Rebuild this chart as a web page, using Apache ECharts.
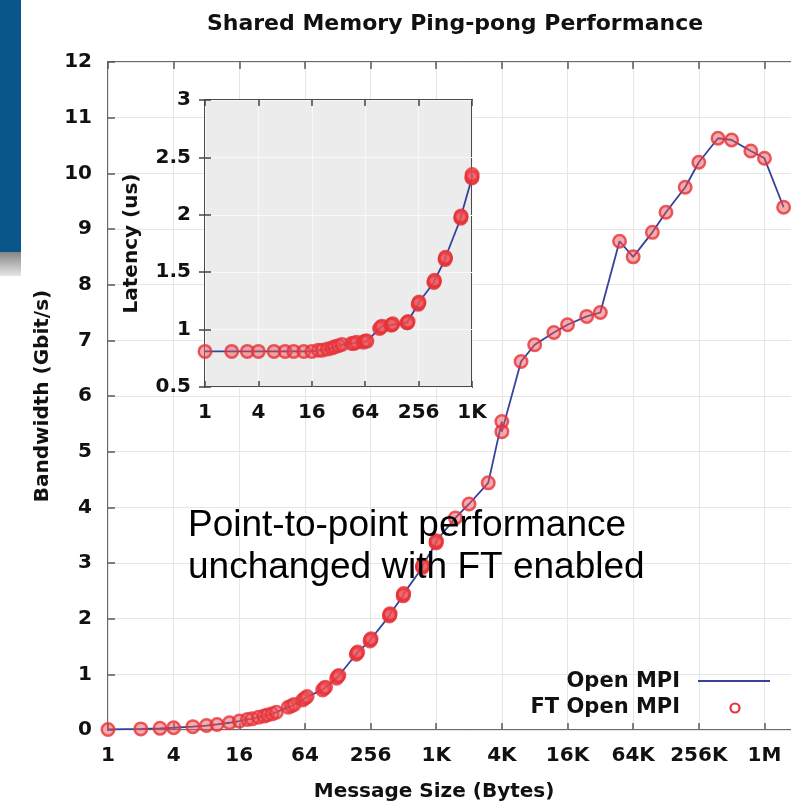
<!DOCTYPE html>
<html><head><meta charset="utf-8">
<script src="https://cdn.jsdelivr.net/npm/echarts@6/dist/echarts.min.js"></script>
<style>html,body{margin:0;padding:0;overflow:hidden;background:#fff}#chart{width:850px;height:808px}</style>
</head><body><div id="chart"></div>
<script>
// ---- data ----
const messageSizes = [1,2,3,4,6,8,10,13,16,19,21,24,27,29,32,35,45,48,51,61,64,67,93,96,99,125,128,131,189,192,195,253,256,259,381,384,387,509,512,515,765,768,771,1021,1024,1027,1536,2048,3072,4093,4096,6144,8192,12288,16384,24576,32768,49152,65536,98304,131072,196608,262144,393216,524288,786432,1048576,1572864];
const openMpiBandwidth = [0.01,0.02,0.03,0.04,0.06,0.08,0.1,0.13,0.16,0.19,0.2,0.23,0.25,0.27,0.29,0.32,0.41,0.43,0.46,0.54,0.57,0.6,0.72,0.75,0.77,0.93,0.96,0.98,1.36,1.38,1.4,1.6,1.62,1.64,2.05,2.07,2.09,2.41,2.43,2.45,2.92,2.94,2.96,3.36,3.38,3.4,3.81,4.06,4.44,5.54,5.36,6.62,6.92,7.14,7.28,7.43,7.5,8.78,8.5,8.94,9.3,9.75,10.2,10.63,10.6,10.4,10.27,9.39];
const ftOpenMpiBandwidth = [0.01,0.02,0.03,0.04,0.06,0.08,0.1,0.13,0.16,0.19,0.2,0.23,0.25,0.27,0.29,0.32,0.41,0.43,0.46,0.54,0.57,0.6,0.72,0.75,0.77,0.93,0.96,0.98,1.36,1.38,1.4,1.6,1.62,1.64,2.05,2.07,2.09,2.41,2.43,2.45,2.92,2.94,2.96,3.36,3.38,3.4,3.81,4.06,4.44,5.54,5.36,6.62,6.92,7.14,7.28,7.43,7.5,8.78,8.5,8.94,9.3,9.75,10.2,10.63,10.6,10.4,10.27,9.39];
const latencySizes = [1,2,3,4,6,8,10,13,16,19,21,24,27,29,32,35,45,48,51,61,64,67,93,96,99,125,128,131,189,192,195,253,256,259,381,384,387,509,512,515,765,768,771,1021,1024,1027];
const openMpiLatency = [0.81,0.81,0.81,0.81,0.81,0.81,0.81,0.81,0.81,0.82,0.82,0.83,0.84,0.85,0.86,0.87,0.88,0.88,0.89,0.89,0.9,0.9,1.01,1.02,1.03,1.04,1.04,1.05,1.06,1.06,1.07,1.22,1.23,1.24,1.41,1.42,1.43,1.61,1.62,1.63,1.97,1.98,1.99,2.32,2.33,2.35];
const ftOpenMpiLatency = [0.81,0.81,0.81,0.81,0.81,0.81,0.81,0.81,0.81,0.82,0.82,0.83,0.84,0.85,0.86,0.87,0.88,0.88,0.89,0.89,0.9,0.9,1.01,1.02,1.03,1.04,1.04,1.05,1.06,1.06,1.07,1.22,1.23,1.24,1.41,1.42,1.43,1.61,1.62,1.63,1.97,1.98,1.99,2.32,2.33,2.35];
const xTickLabels = ['1','4','16','64','256','1K','4K','16K','64K','256K','1M','4M'];
const insetXTickLabels = ['1','4','16','64','256','1K'];
const seriesNames = ['Open MPI','FT Open MPI'];
const titleText = 'Shared Memory Ping-pong Performance';
const noteLines = ['Point-to-point performance','unchanged with FT enabled'];

// ---- styling ----
const GF = 'DejaVu Sans';
const tickFont = {fontFamily: GF, fontWeight: 'bold', fontSize: 20, color: '#111'};
const frameColor = '#5a5a5a';
const lineBlue = '#34449e';
const red = '#e63238';
const markerFill = 'rgba(236,80,84,0.6)';

function pairs(xs, ys) { return xs.map((x, i) => [x, ys[i]]); }

const chart = echarts.init(document.getElementById('chart'));
chart.setOption({
  animation: false,
  backgroundColor: '#fff',
  title: {
    text: titleText, left: 455, top: 13, textAlign: 'center', padding: 0,
    textStyle: {fontFamily: GF, fontWeight: 'bold', fontSize: 22, color: '#111'}
  },
  grid: [
    {left: 108, top: 62, width: 726, height: 668, show: true, backgroundColor: '#fff',
     borderColor: '#6a6a6a', borderWidth: 2, z: 0, containLabel: false},
    {left: 205, top: 100, width: 267, height: 287, show: true, backgroundColor: '#ececec',
     borderColor: '#4a4a4a', borderWidth: 2, z: 5, containLabel: false}
  ],
  xAxis: [
    {type: 'log', logBase: 2, min: 1, max: 4194304, gridIndex: 0, show: false},
    {type: 'value', gridIndex: 0, min: 0, max: 22, interval: 2, position: 'bottom',
     axisLine: {show: false},
     axisTick: {show: true, inside: true, length: 7, lineStyle: {color: frameColor, width: 1.5}},
     axisLabel: Object.assign({margin: 16, formatter: v => xTickLabels[Math.round(v / 2)]}, tickFont),
     splitLine: {show: true, lineStyle: {color: '#e6e6e6', width: 1}},
     name: 'Message Size (Bytes)', nameLocation: 'middle', nameGap: 52,
     nameTextStyle: {fontFamily: GF, fontWeight: 'bold', fontSize: 20, color: '#111', padding: [0, 70, 0, 0]}},
    {type: 'value', gridIndex: 0, min: 0, max: 22, interval: 2, position: 'top',
     axisLine: {show: false}, axisLabel: {show: false}, splitLine: {show: false},
     axisTick: {show: true, inside: true, length: 7, lineStyle: {color: frameColor, width: 1.5}}},
    {type: 'log', logBase: 2, min: 1, max: 1024, gridIndex: 1, show: false},
    {type: 'value', gridIndex: 1, min: 0, max: 10, interval: 2, position: 'bottom', z: 6,
     axisLine: {show: false},
     axisTick: {show: true, inside: true, length: 6, lineStyle: {color: '#444', width: 1.5}},
     axisLabel: Object.assign({margin: 16, formatter: v => insetXTickLabels[Math.round(v / 2)]}, tickFont),
     splitLine: {show: true, lineStyle: {color: '#f8f8f8', width: 1}}},
    {type: 'value', gridIndex: 1, min: 0, max: 10, interval: 2, position: 'top', z: 6,
     axisLine: {show: false}, axisLabel: {show: false}, splitLine: {show: false},
     axisTick: {show: true, inside: true, length: 6, lineStyle: {color: '#444', width: 1.5}}}
  ],
  yAxis: [
    {type: 'value', gridIndex: 0, min: 0, max: 12, interval: 1, position: 'left',
     axisLine: {show: false},
     axisTick: {show: true, inside: true, length: 7, lineStyle: {color: frameColor, width: 1.5}},
     axisLabel: Object.assign({margin: 16}, tickFont),
     splitLine: {show: true, lineStyle: {color: '#e6e6e6', width: 1}},
     name: 'Bandwidth (Gbit/s)', nameLocation: 'middle', nameGap: 48,
     nameTextStyle: {fontFamily: GF, fontWeight: 'bold', fontSize: 20, color: '#111'}},
    {type: 'value', gridIndex: 1, min: 0.5, max: 3, interval: 0.5, position: 'left', z: 6,
     axisLine: {show: false},
     axisTick: {show: true, inside: true, length: 6, lineStyle: {color: '#444', width: 1.5}},
     axisLabel: Object.assign({margin: 14}, tickFont),
     splitLine: {show: true, lineStyle: {color: '#f8f8f8', width: 1}},
     name: 'Latency (us)', nameLocation: 'middle', nameGap: 63,
     nameTextStyle: {fontFamily: GF, fontWeight: 'bold', fontSize: 20, color: '#111'}},
    {type: 'value', gridIndex: 1, min: 0.5, max: 3, interval: 0.5, position: 'right', z: 6,
     axisLine: {show: false}, axisLabel: {show: false}, splitLine: {show: false},
     axisTick: {show: true, inside: true, length: 6, lineStyle: {color: '#444', width: 1.5}}}
  ],
  series: [
    {name: seriesNames[0], type: 'line', xAxisIndex: 0, yAxisIndex: 0, z: 3,
     data: pairs(messageSizes, openMpiBandwidth), symbol: 'none',
     lineStyle: {color: lineBlue, width: 1.8}},
    {name: seriesNames[1], type: 'scatter', xAxisIndex: 0, yAxisIndex: 0, z: 4, clip: false,
     data: pairs(messageSizes, ftOpenMpiBandwidth), symbol: 'circle', symbolSize: 12.5,
     itemStyle: {color: markerFill, borderColor: red, borderWidth: 2.5}},
    {name: seriesNames[0] + ' latency', type: 'line', xAxisIndex: 3, yAxisIndex: 1, z: 7,
     data: pairs(latencySizes, openMpiLatency), symbol: 'none',
     lineStyle: {color: lineBlue, width: 1.8}},
    {name: seriesNames[1] + ' latency', type: 'scatter', xAxisIndex: 3, yAxisIndex: 1, z: 8, clip: false,
     data: pairs(latencySizes, ftOpenMpiLatency), symbol: 'circle', symbolSize: 12.5,
     itemStyle: {color: markerFill, borderColor: red, borderWidth: 2.5}}
  ],
  graphic: [
    {type: 'rect', z: 20, shape: {x: 0, y: 0, width: 21, height: 252}, style: {fill: '#0a558a'}},
    {type: 'rect', z: 20, shape: {x: 0, y: 252, width: 21, height: 24},
     style: {fill: new echarts.graphic.LinearGradient(0, 0, 0, 1, [
       {offset: 0, color: '#858585'}, {offset: 1, color: '#e6e6e6'}])}},
    {type: 'text', z: 30, x: 680, y: 682,
     style: {text: seriesNames[0], font: 'bold 21px "DejaVu Sans"', fill: '#111',
             align: 'right', textAlign: 'right', verticalAlign: 'middle', textVerticalAlign: 'middle'}},
    {type: 'text', z: 30, x: 680, y: 708,
     style: {text: seriesNames[1], font: 'bold 21px "DejaVu Sans"', fill: '#111',
             align: 'right', textAlign: 'right', verticalAlign: 'middle', textVerticalAlign: 'middle'}},
    {type: 'line', z: 30, shape: {x1: 698, y1: 681, x2: 770, y2: 681},
     style: {stroke: lineBlue, lineWidth: 1.8}},
    {type: 'circle', z: 30, shape: {cx: 735, cy: 708, r: 4.5},
     style: {fill: 'rgba(255,255,255,0)', stroke: red, lineWidth: 2.2}},
    {type: 'text', z: 30, x: 188, y: 526,
     style: {text: noteLines[0], font: '37px "Liberation Sans", Arial, sans-serif', fill: '#000',
             align: 'left', textAlign: 'left', verticalAlign: 'middle', textVerticalAlign: 'middle'}},
    {type: 'text', z: 30, x: 188, y: 568,
     style: {text: noteLines[1], font: '37px "Liberation Sans", Arial, sans-serif', fill: '#000',
             align: 'left', textAlign: 'left', verticalAlign: 'middle', textVerticalAlign: 'middle'}}
  ]
});
</script>
</body></html>
